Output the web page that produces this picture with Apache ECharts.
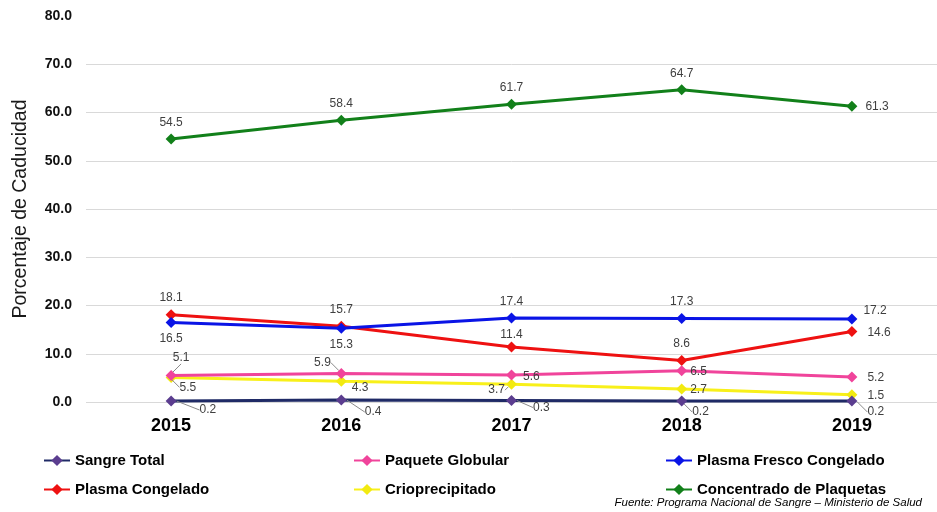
<!DOCTYPE html>
<html>
<head>
<meta charset="utf-8">
<script src="https://cdn.jsdelivr.net/npm/echarts@6/dist/echarts.min.js"></script>
<style>
  html, body { margin: 0; padding: 0; background: #fff; }
  #chart { width: 937px; height: 512px; }
</style>
</head>
<body>
<div id="chart"></div>
<script>
// datos
const years = ['2015', '2016', '2017', '2018', '2019']
const sangreTotal = [0.2, 0.4, 0.3, 0.2, 0.2]
const paqueteGlobular = [5.5, 5.9, 5.6, 6.5, 5.2]
const plasmaFresco = [16.5, 15.3, 17.4, 17.3, 17.2]
const plasmaCongelado = [18.1, 15.7, 11.4, 8.6, 14.6]
const crioprecipitado = [5.1, 4.3, 3.7, 2.7, 1.5]
const plaquetas = [54.5, 58.4, 61.7, 64.7, 61.3]
const yTicks = [0, 10, 20, 30, 40, 50, 60, 70, 80]

// posicion de etiquetas: [position, dx, dy, guia]
const labelSpec = {
  'Sangre Total': [['right', 18, 9, 1], ['right', 13, 12, 1], ['right', 11, 7, 1], ['right', 0, 11, 1], ['right', 5, 11, 1]],
  'Paquete Globular': [['right', -2, 12, 1], ['left', 0, -11, 1], ['right', 1, 2, 0], ['right', -2, 1, 0], ['right', 5, 1, 0]],
  'Plasma Fresco Congelado': [['bottom', 0, 0, 0], ['bottom', 0, 0, 0], ['top', 0, 0, 0], ['top', 0, 0, 0], ['right', 1, -8, 0]],
  'Plasma Congelado': [['top', 0, 0, 0], ['top', 0, 0, 0], ['top', 0, 4, 0], ['top', 0, 0, 0], ['right', 5, 1, 0]],
  'Crioprecipitado': [['top', 10, -3, 1], ['right', 0, 6, 0], ['left', 4, 6, 1], ['right', -2, 1, 0], ['right', 5, 1, 0]],
  'Concentrado de Plaquetas': [['top', 0, 0, 0], ['top', 0, 0, 0], ['top', 0, 0, 0], ['top', 0, 0, 0], ['right', 3, 0, 0]]
}

const seriesDefs = [
  { name: 'Sangre Total', values: sangreTotal, line: '#1f2a66', marker: '#5b3d8f' },
  { name: 'Paquete Globular', values: paqueteGlobular, line: '#f0449b', marker: '#f0449b' },
  { name: 'Plasma Fresco Congelado', values: plasmaFresco, line: '#0a14e6', marker: '#0a14e6' },
  { name: 'Plasma Congelado', values: plasmaCongelado, line: '#ee1111', marker: '#ee1111' },
  { name: 'Crioprecipitado', values: crioprecipitado, line: '#f8f01a', marker: '#f2ea10' },
  { name: 'Concentrado de Plaquetas', values: plaquetas, line: '#12801a', marker: '#12801a' }
]

const chart = echarts.init(document.getElementById('chart'))

const series = seriesDefs.map((s, si) => ({
  name: s.name,
  type: 'line',
  data: s.values.map((v, i) => ({
    value: v,
    label: { position: labelSpec[s.name][i][0] },
    labelLine: { show: !!labelSpec[s.name][i][3] }
  })),
  symbol: 'diamond',
  symbolSize: 11,
  z: 10 - si,
  lineStyle: { color: s.line, width: 3 },
  itemStyle: { color: s.marker },
  label: {
    show: true,
    distance: 5,
    color: '#3f3f3f',
    fontSize: 12,
    fontFamily: 'Liberation Sans, Arial, sans-serif',
    formatter: p => p.value.toFixed(1)
  },
  labelLine: { lineStyle: { color: '#8a8a8a', width: 1 } },
  labelLayout: p => {
    const spec = labelSpec[s.name][p.dataIndex]
    return { dx: spec[1], dy: spec[2] }
  },
  emphasis: { disabled: true },
  animation: false
}))

const legendText = {
  fontFamily: 'Liberation Sans, Arial, sans-serif',
  fontWeight: 'bold',
  fontSize: 15,
  color: '#000'
}

const option = {
  backgroundColor: '#fff',
  animation: false,
  grid: { left: 86, right: -11, top: 16, bottom: 110 },
  legend: [
    { data: ['Sangre Total', 'Plasma Congelado'], left: 38, top: 448 },
    { data: ['Paquete Globular', 'Crioprecipitado'], left: 348, top: 448 },
    { data: ['Plasma Fresco Congelado', 'Concentrado de Plaquetas'], left: 660, top: 448 }
  ].map(l => Object.assign({
    orient: 'vertical',
    itemWidth: 26,
    itemHeight: 14,
    itemGap: 14,
    textStyle: legendText,
    selectedMode: false
  }, l)),
  xAxis: {
    type: 'category',
    data: years,
    boundaryGap: true,
    axisLine: { show: false },
    axisTick: { show: false },
    axisLabel: {
      margin: 15,
      color: '#000',
      fontWeight: 'bold',
      fontSize: 18,
      fontFamily: 'Liberation Sans, Arial, sans-serif'
    }
  },
  yAxis: {
    type: 'value',
    min: yTicks[0],
    max: yTicks[yTicks.length - 1],
    interval: yTicks[1] - yTicks[0],
    name: 'Porcentaje de Caducidad',
    nameLocation: 'middle',
    nameGap: 55,
    nameTextStyle: {
      fontSize: 19.5,
      color: '#1a1a1a',
      fontFamily: 'Liberation Sans, Arial, sans-serif'
    },
    axisLine: { show: false },
    axisTick: { show: false },
    axisLabel: {
      margin: 14,
      color: '#111',
      fontWeight: 'bold',
      fontSize: 14,
      fontFamily: 'Liberation Sans, Arial, sans-serif',
      formatter: v => v.toFixed(1)
    },
    splitLine: { show: true, showMaxLine: false, lineStyle: { color: '#d9d9d9', width: 1 } }
  },
  graphic: [{
    type: 'text',
    right: 15,
    top: 497,
    style: {
      text: 'Fuente: Programa Nacional de Sangre – Ministerio de Salud',
      font: 'italic 11.5px "Liberation Sans Narrow", "Liberation Sans", Arial, sans-serif',
      fill: '#000'
    }
  }],
  series: series
}

chart.setOption(option)
</script>
</body>
</html>
